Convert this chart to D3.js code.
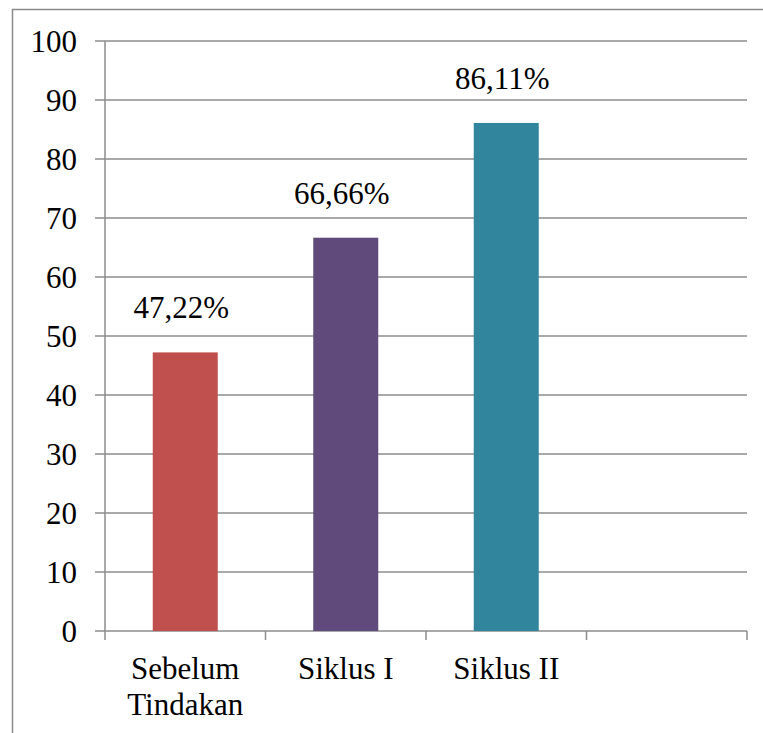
<!DOCTYPE html>
<html>
<head>
<meta charset="utf-8">
<script src="https://cdn.jsdelivr.net/npm/d3@7"></script>
<style>
  body { margin: 0; background: #fff; }
</style>
</head>
<body>
<div id="graf"></div>
<script>
// Datos
kategori = ['Sebelum Tindakan', 'Siklus I', 'Siklus II', '']
nilai = [47.22, 66.66, 86.11]
label = ['47,22%', '66,66%', '86,11%']
warna = ['#c0504d', '#604a7b', '#31859c']
yTicks = [0, 10, 20, 30, 40, 50, 60, 70, 80, 90, 100]

ancho_total = 763
alto_total = 733
margins = { top: 41, left: 105, right: 16, bottom: 102 }
ancho = ancho_total - margins.left - margins.right
alto = alto_total - margins.top - margins.bottom

fuente = "'Liberation Serif', 'Times New Roman', serif"
tam = '31px'

svg = d3.select('#graf').append('svg')
  .attr('width', ancho_total)
  .attr('height', alto_total)
  .style('font-family', fuente)

// marco
svg.append('path')
  .attr('d', `M12.5,${alto_total} V9.5 H${ancho_total}`)
  .attr('fill', 'none')
  .attr('stroke', '#8a8a8a')
  .attr('stroke-width', 1.5)

g = svg.append('g')
  .attr('transform', `translate(${margins.left}, ${margins.top})`)

x = d3.scaleBand().domain(kategori).range([0, ancho])
y = d3.scaleLinear().domain([0, 100]).range([alto, 0])

lineColor = '#8c8c8c'

// rejilla + ticks y
g.selectAll('.grid')
  .data(yTicks)
  .enter().append('line')
    .attr('x1', -10)
    .attr('x2', ancho)
    .attr('y1', d => y(d))
    .attr('y2', d => y(d))
    .attr('stroke', lineColor)
    .attr('stroke-width', 1.5)

g.selectAll('.ylab')
  .data(yTicks)
  .enter().append('text')
    .attr('x', -28)
    .attr('y', d => y(d) + 10.5)
    .attr('text-anchor', 'end')
    .style('font-size', tam)
    .text(d => d)

// eje y
g.append('line')
  .attr('x1', 0).attr('x2', 0)
  .attr('y1', 0).attr('y2', alto)
  .attr('stroke', lineColor)
  .attr('stroke-width', 1.5)

// ticks x en los límites de las bandas
bordes = kategori.map(d => x(d)).concat([ancho])
g.selectAll('.xtick')
  .data(bordes)
  .enter().append('line')
    .attr('x1', d => d).attr('x2', d => d)
    .attr('y1', alto).attr('y2', alto + 9)
    .attr('stroke', lineColor)
    .attr('stroke-width', 1.5)

// barras
barW = x.bandwidth() * 0.405
g.selectAll('rect')
  .data(nilai)
  .enter().append('rect')
    .attr('x', (d, i) => x(kategori[i]) + x.bandwidth() / 2 - barW / 2)
    .attr('y', d => y(d))
    .attr('width', barW)
    .attr('height', d => alto - y(d))
    .attr('fill', (d, i) => warna[i])

// etiquetas de datos
g.selectAll('.dlab')
  .data(nilai)
  .enter().append('text')
    .attr('x', (d, i) => x(kategori[i]) + x.bandwidth() / 2 - 4)
    .attr('y', d => y(d) - 34)
    .attr('text-anchor', 'middle')
    .style('font-size', tam)
    .text((d, i) => label[i])

// etiquetas de categoría
g.selectAll('.xlab')
  .data(kategori.filter(d => d))
  .enter().append('text')
    .attr('text-anchor', 'middle')
    .attr('transform', d => `translate(${x(d) + x.bandwidth() / 2}, ${alto + 48})`)
    .style('font-size', tam)
    .each(function(d) {
      const parts = d === 'Sebelum Tindakan' ? ['Sebelum', 'Tindakan'] : [d]
      d3.select(this).selectAll('tspan')
        .data(parts)
        .enter().append('tspan')
          .attr('x', 0)
          .attr('dy', (p, i) => i ? 36 : 0)
          .text(p => p)
    })
</script>
</body>
</html>
